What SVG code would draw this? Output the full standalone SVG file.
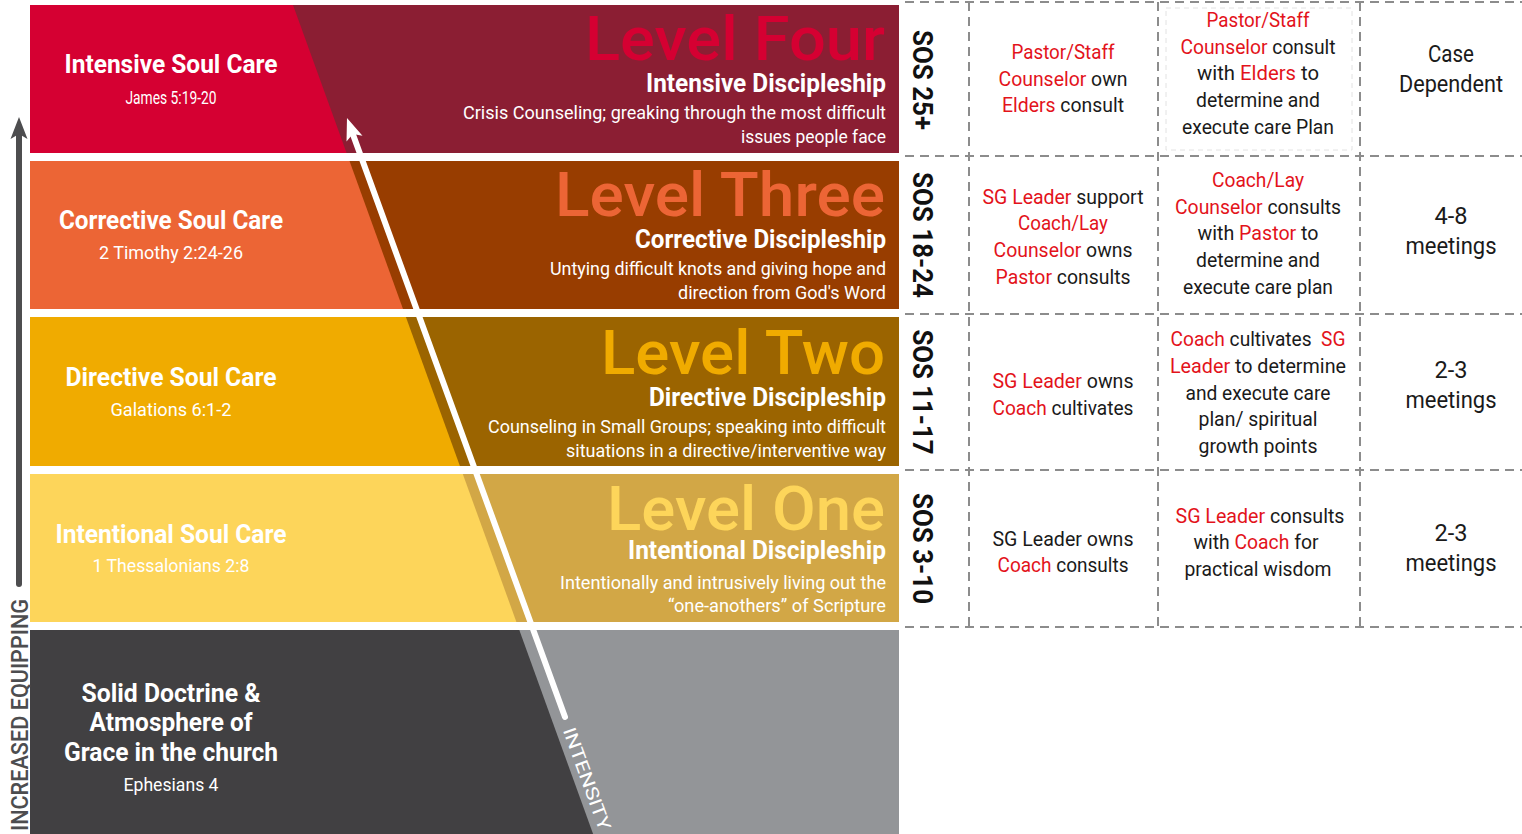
<svg xmlns="http://www.w3.org/2000/svg" width="1522" height="834" viewBox="0 0 1522 834">
  <style>
    text { font-family: Roboto, "Liberation Sans", "DejaVu Sans", sans-serif; }
    .head { font-weight: 700; font-size: 25px; fill: #ffffff; text-anchor: middle; }
    .ref { font-size: 18px; fill: #ffffff; text-anchor: middle; }
    .lvl { font-size: 62px; font-weight: 500; text-anchor: end; }
    .sub { font-weight: 700; font-size: 25px; fill: #ffffff; text-anchor: end; }
    .desc { font-size: 18.5px; fill: #ffffff; text-anchor: end; }
    .cell { font-size: 20px; fill: #1a1a1a; text-anchor: middle; }
    .big { font-size: 23px; }
    .r { fill: #e3131b; }
    .sos { font-weight: 700; font-size: 28px; fill: #111111; text-anchor: middle; }
    .grid { stroke: #8c8c8c; stroke-width: 2; stroke-dasharray: 9 6; fill: none; }
    .axis { font-weight: 500; font-size: 24px; fill: #4d4d4f; }
    .intensity { font-size: 18px; fill: #ffffff; }
  </style>
  <defs>
    <marker id="headGray" markerUnits="userSpaceOnUse" markerWidth="24" markerHeight="20" viewBox="0 -10 24 20" refX="5" refY="0" orient="auto">
      <path d="M0,-8.5 L22,0 L0,8.5 L5,0 Z" fill="#4d4d4f"/>
    </marker>
    <marker id="headWhite" markerUnits="userSpaceOnUse" markerWidth="24" markerHeight="20" viewBox="0 -10 24 20" refX="5" refY="0" orient="auto">
      <path d="M0,-8.5 L22,0 L0,8.5 L5,0 Z" fill="#ffffff"/>
    </marker>
  </defs>

  <rect x="0" y="0" width="1522" height="834" fill="#ffffff"/>

  <!-- Level Four -->
  <g id="level-four">
    <rect x="30" y="5" width="869" height="148" fill="#8b1e33"/>
    <polygon points="30,5 293,5 346.6,153 30,153" fill="#d50032"/>
    <text class="head" x="171" y="73" textLength="213" lengthAdjust="spacingAndGlyphs">Intensive Soul Care</text>
    <text class="ref" x="171" y="104" textLength="91" lengthAdjust="spacingAndGlyphs">James 5:19-20</text>
    <text class="lvl" x="885" y="60" fill="#d50032" textLength="300" lengthAdjust="spacingAndGlyphs">Level Four</text>
    <text class="sub" x="886" y="92" textLength="240" lengthAdjust="spacingAndGlyphs">Intensive Discipleship</text>
    <text class="desc" x="886" y="119" textLength="423" lengthAdjust="spacingAndGlyphs">Crisis Counseling; greaking through the most difficult</text>
    <text class="desc" x="886" y="143" textLength="145" lengthAdjust="spacingAndGlyphs">issues people face</text>
  </g>

  <!-- Level Three -->
  <g id="level-three">
    <rect x="30" y="161" width="869" height="148" fill="#983d00"/>
    <polygon points="30,161 349.5,161 403,309 30,309" fill="#ec6535"/>
    <text class="head" x="171" y="229" textLength="224" lengthAdjust="spacingAndGlyphs">Corrective Soul Care</text>
    <text class="ref" x="171" y="259" textLength="144" lengthAdjust="spacingAndGlyphs">2 Timothy 2:24-26</text>
    <text class="lvl" x="885" y="216" fill="#ec6535" textLength="330" lengthAdjust="spacingAndGlyphs">Level Three</text>
    <text class="sub" x="886" y="248" textLength="251" lengthAdjust="spacingAndGlyphs">Corrective Discipleship</text>
    <text class="desc" x="886" y="275" textLength="336" lengthAdjust="spacingAndGlyphs">Untying difficult knots and giving hope and</text>
    <text class="desc" x="886" y="299" textLength="208" lengthAdjust="spacingAndGlyphs">direction from God's Word</text>
  </g>

  <!-- Level Two -->
  <g id="level-two">
    <rect x="30" y="317" width="869" height="149" fill="#9b6400"/>
    <polygon points="30,317 405.9,317 459.9,466 30,466" fill="#f0ab00"/>
    <text class="head" x="171" y="386" textLength="211" lengthAdjust="spacingAndGlyphs">Directive Soul Care</text>
    <text class="ref" x="171" y="416" textLength="121" lengthAdjust="spacingAndGlyphs">Galations 6:1-2</text>
    <text class="lvl" x="885" y="374" fill="#f0ab00" textLength="284" lengthAdjust="spacingAndGlyphs">Level Two</text>
    <text class="sub" x="886" y="406" textLength="237" lengthAdjust="spacingAndGlyphs">Directive Discipleship</text>
    <text class="desc" x="886" y="433" textLength="398" lengthAdjust="spacingAndGlyphs">Counseling in Small Groups; speaking into difficult</text>
    <text class="desc" x="886" y="457" textLength="320" lengthAdjust="spacingAndGlyphs">situations in a directive/interventive way</text>
  </g>

  <!-- Level One -->
  <g id="level-one">
    <rect x="30" y="474" width="869" height="148" fill="#d2a746"/>
    <polygon points="30,474 462.8,474 516.4,622 30,622" fill="#fdd55a"/>
    <text class="head" x="171" y="543" textLength="231" lengthAdjust="spacingAndGlyphs">Intentional Soul Care</text>
    <text class="ref" x="171" y="572" textLength="157" lengthAdjust="spacingAndGlyphs">1 Thessalonians 2:8</text>
    <text class="lvl" x="885" y="530" fill="#fdd55a" textLength="278" lengthAdjust="spacingAndGlyphs">Level One</text>
    <text class="sub" x="886" y="559" textLength="258" lengthAdjust="spacingAndGlyphs">Intentional Discipleship</text>
    <text class="desc" x="886" y="589" textLength="326" lengthAdjust="spacingAndGlyphs">Intentionally and intrusively living out the</text>
    <text class="desc" x="886" y="612" textLength="218" lengthAdjust="spacingAndGlyphs">“one-anothers” of Scripture</text>
  </g>

  <!-- Foundation -->
  <g id="foundation">
    <rect x="30" y="630" width="869" height="204" fill="#939598"/>
    <polygon points="30,630 519.3,630 593.1,834 30,834" fill="#414042"/>
    <text class="head" x="171" y="702" textLength="179" lengthAdjust="spacingAndGlyphs">Solid Doctrine &amp;</text>
    <text class="head" x="171" y="731" textLength="163" lengthAdjust="spacingAndGlyphs">Atmosphere of</text>
    <text class="head" x="171" y="761" textLength="214" lengthAdjust="spacingAndGlyphs">Grace in the church</text>
    <text class="ref" x="171" y="791" textLength="95" lengthAdjust="spacingAndGlyphs">Ephesians 4</text>
  </g>

  <!-- Axes: equipping (vertical) and intensity (diagonal) -->
  <g id="connectors">
    <line x1="19" y1="584" x2="19" y2="134" stroke="#4d4d4f" stroke-width="6" stroke-linecap="round" marker-end="url(#headGray)"/>
    <line x1="565" y1="717" x2="352.8" y2="134" stroke="#ffffff" stroke-width="6" stroke-linecap="round" marker-end="url(#headWhite)"/>
  </g>
  <g id="axis-labels">
    <text class="axis" transform="translate(28,831) rotate(-90)" textLength="232" lengthAdjust="spacingAndGlyphs">INCREASED EQUIPPING</text>
    <text class="intensity" transform="translate(562.7,730.2) rotate(70)" textLength="108" lengthAdjust="spacingAndGlyphs">INTENSITY</text>
  </g>

  <!-- Care table -->
  <g id="table-grid">
    <path class="grid" d="M905,2 H1522 M905,156 H1522 M905,314 H1522 M905,470 H1522 M905,627 H1522"/>
    <path class="grid" d="M969,2 V627 M1158,2 V627 M1360,2 V627"/>
    <rect x="1166" y="8" width="186" height="142" fill="none" stroke="#e2e2e2" stroke-width="1" stroke-dasharray="5 4"/>
  </g>

  <g id="row-sos-25">
    <text class="sos" transform="translate(913,80) rotate(90)" textLength="100" lengthAdjust="spacingAndGlyphs">SOS 25+</text>
    <text class="cell r" x="1063" y="59" textLength="103" lengthAdjust="spacingAndGlyphs">Pastor/Staff</text>
    <text class="cell" x="1063" y="86" textLength="129" lengthAdjust="spacingAndGlyphs"><tspan class="r">Counselor</tspan> own</text>
    <text class="cell" x="1063" y="112" textLength="122" lengthAdjust="spacingAndGlyphs"><tspan class="r">Elders</tspan> consult</text>
    <text class="cell r" x="1258" y="27" textLength="103" lengthAdjust="spacingAndGlyphs">Pastor/Staff</text>
    <text class="cell" x="1258" y="54" textLength="155" lengthAdjust="spacingAndGlyphs"><tspan class="r">Counselor</tspan> consult</text>
    <text class="cell" x="1258" y="80" textLength="122" lengthAdjust="spacingAndGlyphs">with <tspan class="r">Elders</tspan> to</text>
    <text class="cell" x="1258" y="107" textLength="124" lengthAdjust="spacingAndGlyphs">determine and</text>
    <text class="cell" x="1258" y="134" textLength="152" lengthAdjust="spacingAndGlyphs">execute care Plan</text>
    <text class="cell big" x="1451" y="62" textLength="46" lengthAdjust="spacingAndGlyphs">Case</text>
    <text class="cell big" x="1451" y="92" textLength="104" lengthAdjust="spacingAndGlyphs">Dependent</text>
  </g>

  <g id="row-sos-18-24">
    <text class="sos" transform="translate(913,235) rotate(90)" textLength="126" lengthAdjust="spacingAndGlyphs">SOS 18-24</text>
    <text class="cell" x="1063" y="204" textLength="161" lengthAdjust="spacingAndGlyphs"><tspan class="r">SG Leader</tspan> support</text>
    <text class="cell r" x="1063" y="230" textLength="90" lengthAdjust="spacingAndGlyphs">Coach/Lay</text>
    <text class="cell" x="1063" y="257" textLength="139" lengthAdjust="spacingAndGlyphs"><tspan class="r">Counselor</tspan> owns</text>
    <text class="cell" x="1063" y="284" textLength="135" lengthAdjust="spacingAndGlyphs"><tspan class="r">Pastor</tspan> consults</text>
    <text class="cell r" x="1258" y="187" textLength="92" lengthAdjust="spacingAndGlyphs">Coach/Lay</text>
    <text class="cell" x="1258" y="214" textLength="166" lengthAdjust="spacingAndGlyphs"><tspan class="r">Counselor</tspan> consults</text>
    <text class="cell" x="1258" y="240" textLength="121" lengthAdjust="spacingAndGlyphs">with <tspan class="r">Pastor</tspan> to</text>
    <text class="cell" x="1258" y="267" textLength="124" lengthAdjust="spacingAndGlyphs">determine and</text>
    <text class="cell" x="1258" y="294" textLength="150" lengthAdjust="spacingAndGlyphs">execute care plan</text>
    <text class="cell big" x="1451" y="224" textLength="33" lengthAdjust="spacingAndGlyphs">4-8</text>
    <text class="cell big" x="1451" y="254" textLength="91" lengthAdjust="spacingAndGlyphs">meetings</text>
  </g>

  <g id="row-sos-11-17">
    <text class="sos" transform="translate(913,392) rotate(90)" textLength="125" lengthAdjust="spacingAndGlyphs">SOS 11-17</text>
    <text class="cell" x="1063" y="388" textLength="141" lengthAdjust="spacingAndGlyphs"><tspan class="r">SG Leader</tspan> owns</text>
    <text class="cell" x="1063" y="415" textLength="141" lengthAdjust="spacingAndGlyphs"><tspan class="r">Coach</tspan> cultivates</text>
    <text class="cell" x="1258" y="346" textLength="175" lengthAdjust="spacingAndGlyphs" xml:space="preserve"><tspan class="r">Coach</tspan> cultivates  <tspan class="r">SG</tspan></text>
    <text class="cell" x="1258" y="373" textLength="176" lengthAdjust="spacingAndGlyphs"><tspan class="r">Leader</tspan> to determine</text>
    <text class="cell" x="1258" y="400" textLength="145" lengthAdjust="spacingAndGlyphs">and execute care</text>
    <text class="cell" x="1258" y="426" textLength="119" lengthAdjust="spacingAndGlyphs">plan/ spiritual</text>
    <text class="cell" x="1258" y="453" textLength="119" lengthAdjust="spacingAndGlyphs">growth points</text>
    <text class="cell big" x="1451" y="378" textLength="33" lengthAdjust="spacingAndGlyphs">2-3</text>
    <text class="cell big" x="1451" y="408" textLength="91" lengthAdjust="spacingAndGlyphs">meetings</text>
  </g>

  <g id="row-sos-3-10">
    <text class="sos" transform="translate(913,548.5) rotate(90)" textLength="111" lengthAdjust="spacingAndGlyphs">SOS 3-10</text>
    <text class="cell" x="1063" y="546" textLength="141" lengthAdjust="spacingAndGlyphs">SG Leader owns</text>
    <text class="cell" x="1063" y="572" textLength="131" lengthAdjust="spacingAndGlyphs"><tspan class="r">Coach</tspan> consults</text>
    <text class="cell" x="1260" y="523" textLength="169" lengthAdjust="spacingAndGlyphs"><tspan class="r">SG Leader</tspan> consults</text>
    <text class="cell" x="1256" y="549" textLength="125" lengthAdjust="spacingAndGlyphs">with <tspan class="r">Coach</tspan> for</text>
    <text class="cell" x="1258" y="576" textLength="147" lengthAdjust="spacingAndGlyphs">practical wisdom</text>
    <text class="cell big" x="1451" y="541" textLength="33" lengthAdjust="spacingAndGlyphs">2-3</text>
    <text class="cell big" x="1451" y="571" textLength="91" lengthAdjust="spacingAndGlyphs">meetings</text>
  </g>
</svg>
